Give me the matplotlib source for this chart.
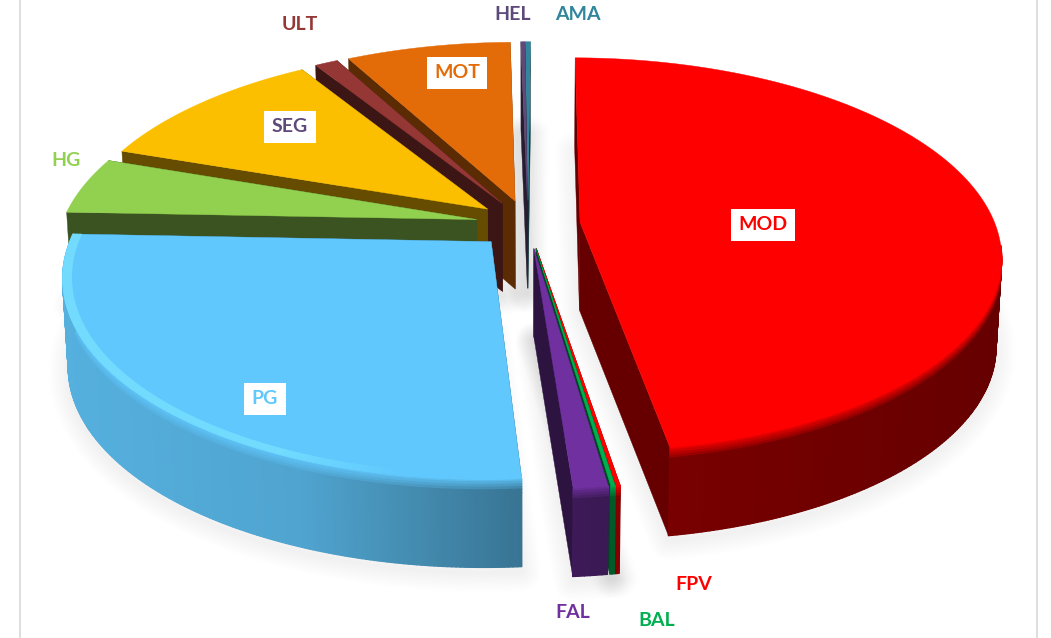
import numpy as np
import matplotlib
matplotlib.use('Agg')
import matplotlib.pyplot as plt
from matplotlib.collections import PolyCollection
from matplotlib.colors import to_rgb
from matplotlib.patches import Polygon

plt.rcParams['font.family'] = ['Lato', 'DejaVu Sans']

labels = ['MOD', 'FPV', 'BAL', 'FAL', 'PG', 'HG', 'SEG', 'ULT', 'MOT', 'HEL', 'AMA']
values = [47.3, 0.14, 0.14, 1.11, 26.81, 4.67, 10.83, 1.05, 7.53, 0.19, 0.22]
colors = ['#ff0000', '#ff0000', '#00b050', '#7030a0', '#61c8fd', '#92d050',
          '#fcbf00', '#953735', '#e36c09', '#5f497a', '#31859c']
text_colors = ['#ff0000', '#ff0000', '#00b050', '#7030a0', '#61c8fd', '#92d050',
               '#5f497a', '#953735', '#e36c09', '#5f497a', '#31859c']
label_pos = [(763, 225), (694, 585), (657, 621), (573, 612), (265, 399), (66, 160),
             (290, 127), (300, 25), (457, 73), (513, 14), (578, 14)]
boxed = ['MOD', 'MOT', 'SEG', 'PG']
draw_order = ['AMA', 'HEL', 'MOT', 'ULT', 'SEG', 'HG', 'PG', 'MOD', 'FPV', 'BAL', 'FAL']

# pie geometry, pixels
CX, CY = 528, 224
R, RK = 415, 192
PERSP = 0.165
EXPLODE = 0.126
HEIGHT = 88
START = 0.4


def project(u, v, drop=0.0):
    s = 1.0 / (1.0 + PERSP * v)
    x = CX + R * u * s
    y = CY - RK * v * s + drop
    if drop:
        x = CX + (x - CX) * (1 - 0.012 * drop / HEIGHT)
    return x, y


def shade(col, f):
    return tuple(min(1, c * f) for c in to_rgb(col))


def mix(a, b, t):
    return tuple(x + (y - x) * t for x, y in zip(a, b))


def wall_factor(x):
    return np.interp(x, [60, 300, 522, 680, 1000], [0.88, 0.82, 0.58, 0.47, 0.40])


fig = plt.figure(figsize=(10.51, 6.38), dpi=100)
ax = fig.add_axes([0, 0, 1, 1])
ax.set_xlim(0, 1051)
ax.set_ylim(638, 0)
ax.axis('off')

# chart frame
ax.plot([20, 20], [0, 638], color='#d9d9d9', lw=1.2)
ax.plot([1036.5, 1036.5], [0, 638], color='#d9d9d9', lw=1.2)

shares = np.array(values) / sum(values) * 360
starts = START + np.concatenate([[0], np.cumsum(shares)[:-1]])

slices = {}
for name, a0, da, col in zip(labels, starts, shares, colors):
    mid = np.radians(a0 + da / 2)
    du, dv = EXPLODE * np.sin(mid), EXPLODE * np.cos(mid)
    th = np.radians(np.linspace(a0, a0 + da, max(3, int(da * 2))))
    slices[name] = (th, du, dv, col)

# soft drop shadow first, under everything
for name in draw_order:
    th, du, dv, col = slices[name]
    xb, yb = project(du + np.sin(th), dv + np.cos(th), HEIGHT)
    ax_, ay_ = project(du, dv, HEIGHT)
    pts = np.vstack([[ax_, ay_], np.column_stack([xb, yb])]) + [0, 5]
    for lw in range(2, 30, 2):
        ax.add_patch(Polygon(pts, closed=True, fc='none', ec='black', lw=lw, alpha=0.004,
                             joinstyle='round', zorder=1))

z = 2
for name in draw_order:
    th, du, dv, col = slices[name]
    ux, uy = du + np.sin(th), dv + np.cos(th)
    ax0, ay0 = project(du, dv)
    bx0, by0 = project(du, dv, HEIGHT)
    xt, yt = project(ux, uy)
    xb, yb = project(ux, uy, HEIGHT)

    # cut faces
    cut = shade(col, 0.4)
    for i in (0, -1):
        ax.add_patch(Polygon([(ax0, ay0), (xt[i], yt[i]), (xb[i], yb[i]), (bx0, by0)],
                             closed=True, fc=cut, ec=cut, lw=0.3, zorder=z))
    z += 1

    # outer wall, only the part facing us; bands get darker going away from the rim
    quads, cols = [], []
    fracs = [0, 0.03, 0.06, 0.09, 0.12, 0.16, 1.0]
    base = to_rgb(col)
    for j in range(len(th) - 1):
        if np.cos((th[j] + th[j + 1]) / 2) > -0.12 and not (name == 'PG'):
            continue
        xm = (xt[j] + xt[j + 1]) / 2
        wall = shade(col, wall_factor(xm))
        for k in range(len(fracs) - 1):
            f0, f1 = fracs[k], fracs[k + 1]
            quads.append([(xt[j] + (xb[j] - xt[j]) * f0, yt[j] + (yb[j] - yt[j]) * f0),
                          (xt[j + 1] + (xb[j + 1] - xt[j + 1]) * f0, yt[j + 1] + (yb[j + 1] - yt[j + 1]) * f0),
                          (xt[j + 1] + (xb[j + 1] - xt[j + 1]) * f1, yt[j + 1] + (yb[j + 1] - yt[j + 1]) * f1),
                          (xt[j] + (xb[j] - xt[j]) * f1, yt[j] + (yb[j] - yt[j]) * f1)])
            cols.append(mix(base, wall, min(1, f1 / 0.16)))
    if quads:
        ax.add_collection(PolyCollection(quads, facecolors=cols, edgecolors=cols, linewidths=1.0, zorder=z))
    z += 1

    # top face
    ax.add_patch(Polygon(np.vstack([[ax0, ay0], np.column_stack([xt, yt])]), closed=True,
                         fc=col, ec=col, lw=0.3, zorder=z))
    z += 1

    # light strip just inside the rim of the PG slice
    if name == 'PG':
        ix, iy = project(du + 0.98 * np.sin(th), dv + 0.98 * np.cos(th))
        rim = []
        rim_cols = []
        for j in range(len(th) - 1):
            rim.append([(xt[j], yt[j]), (xt[j + 1], yt[j + 1]), (ix[j + 1], iy[j + 1]), (ix[j], iy[j])])
            t = np.interp(xt[j], [60, 280, 400], [0.6, 0.6, 0.0])
            rim_cols.append(mix(to_rgb(col), to_rgb('#7de8ff'), t))
        ax.add_collection(PolyCollection(rim, facecolors=rim_cols, edgecolors=rim_cols, linewidths=0.6, zorder=z))
        z += 1

for name, (x, y), tc in zip(labels, label_pos, text_colors):
    box = None
    if name in boxed:
        box = dict(boxstyle='square,pad=0.38', fc='white', ec='none')
    ax.text(x, y, name, color=tc, fontsize=14, fontweight='bold', ha='center', va='center',
            bbox=box, zorder=z + 1)

fig.savefig('out.png', dpi=100)
